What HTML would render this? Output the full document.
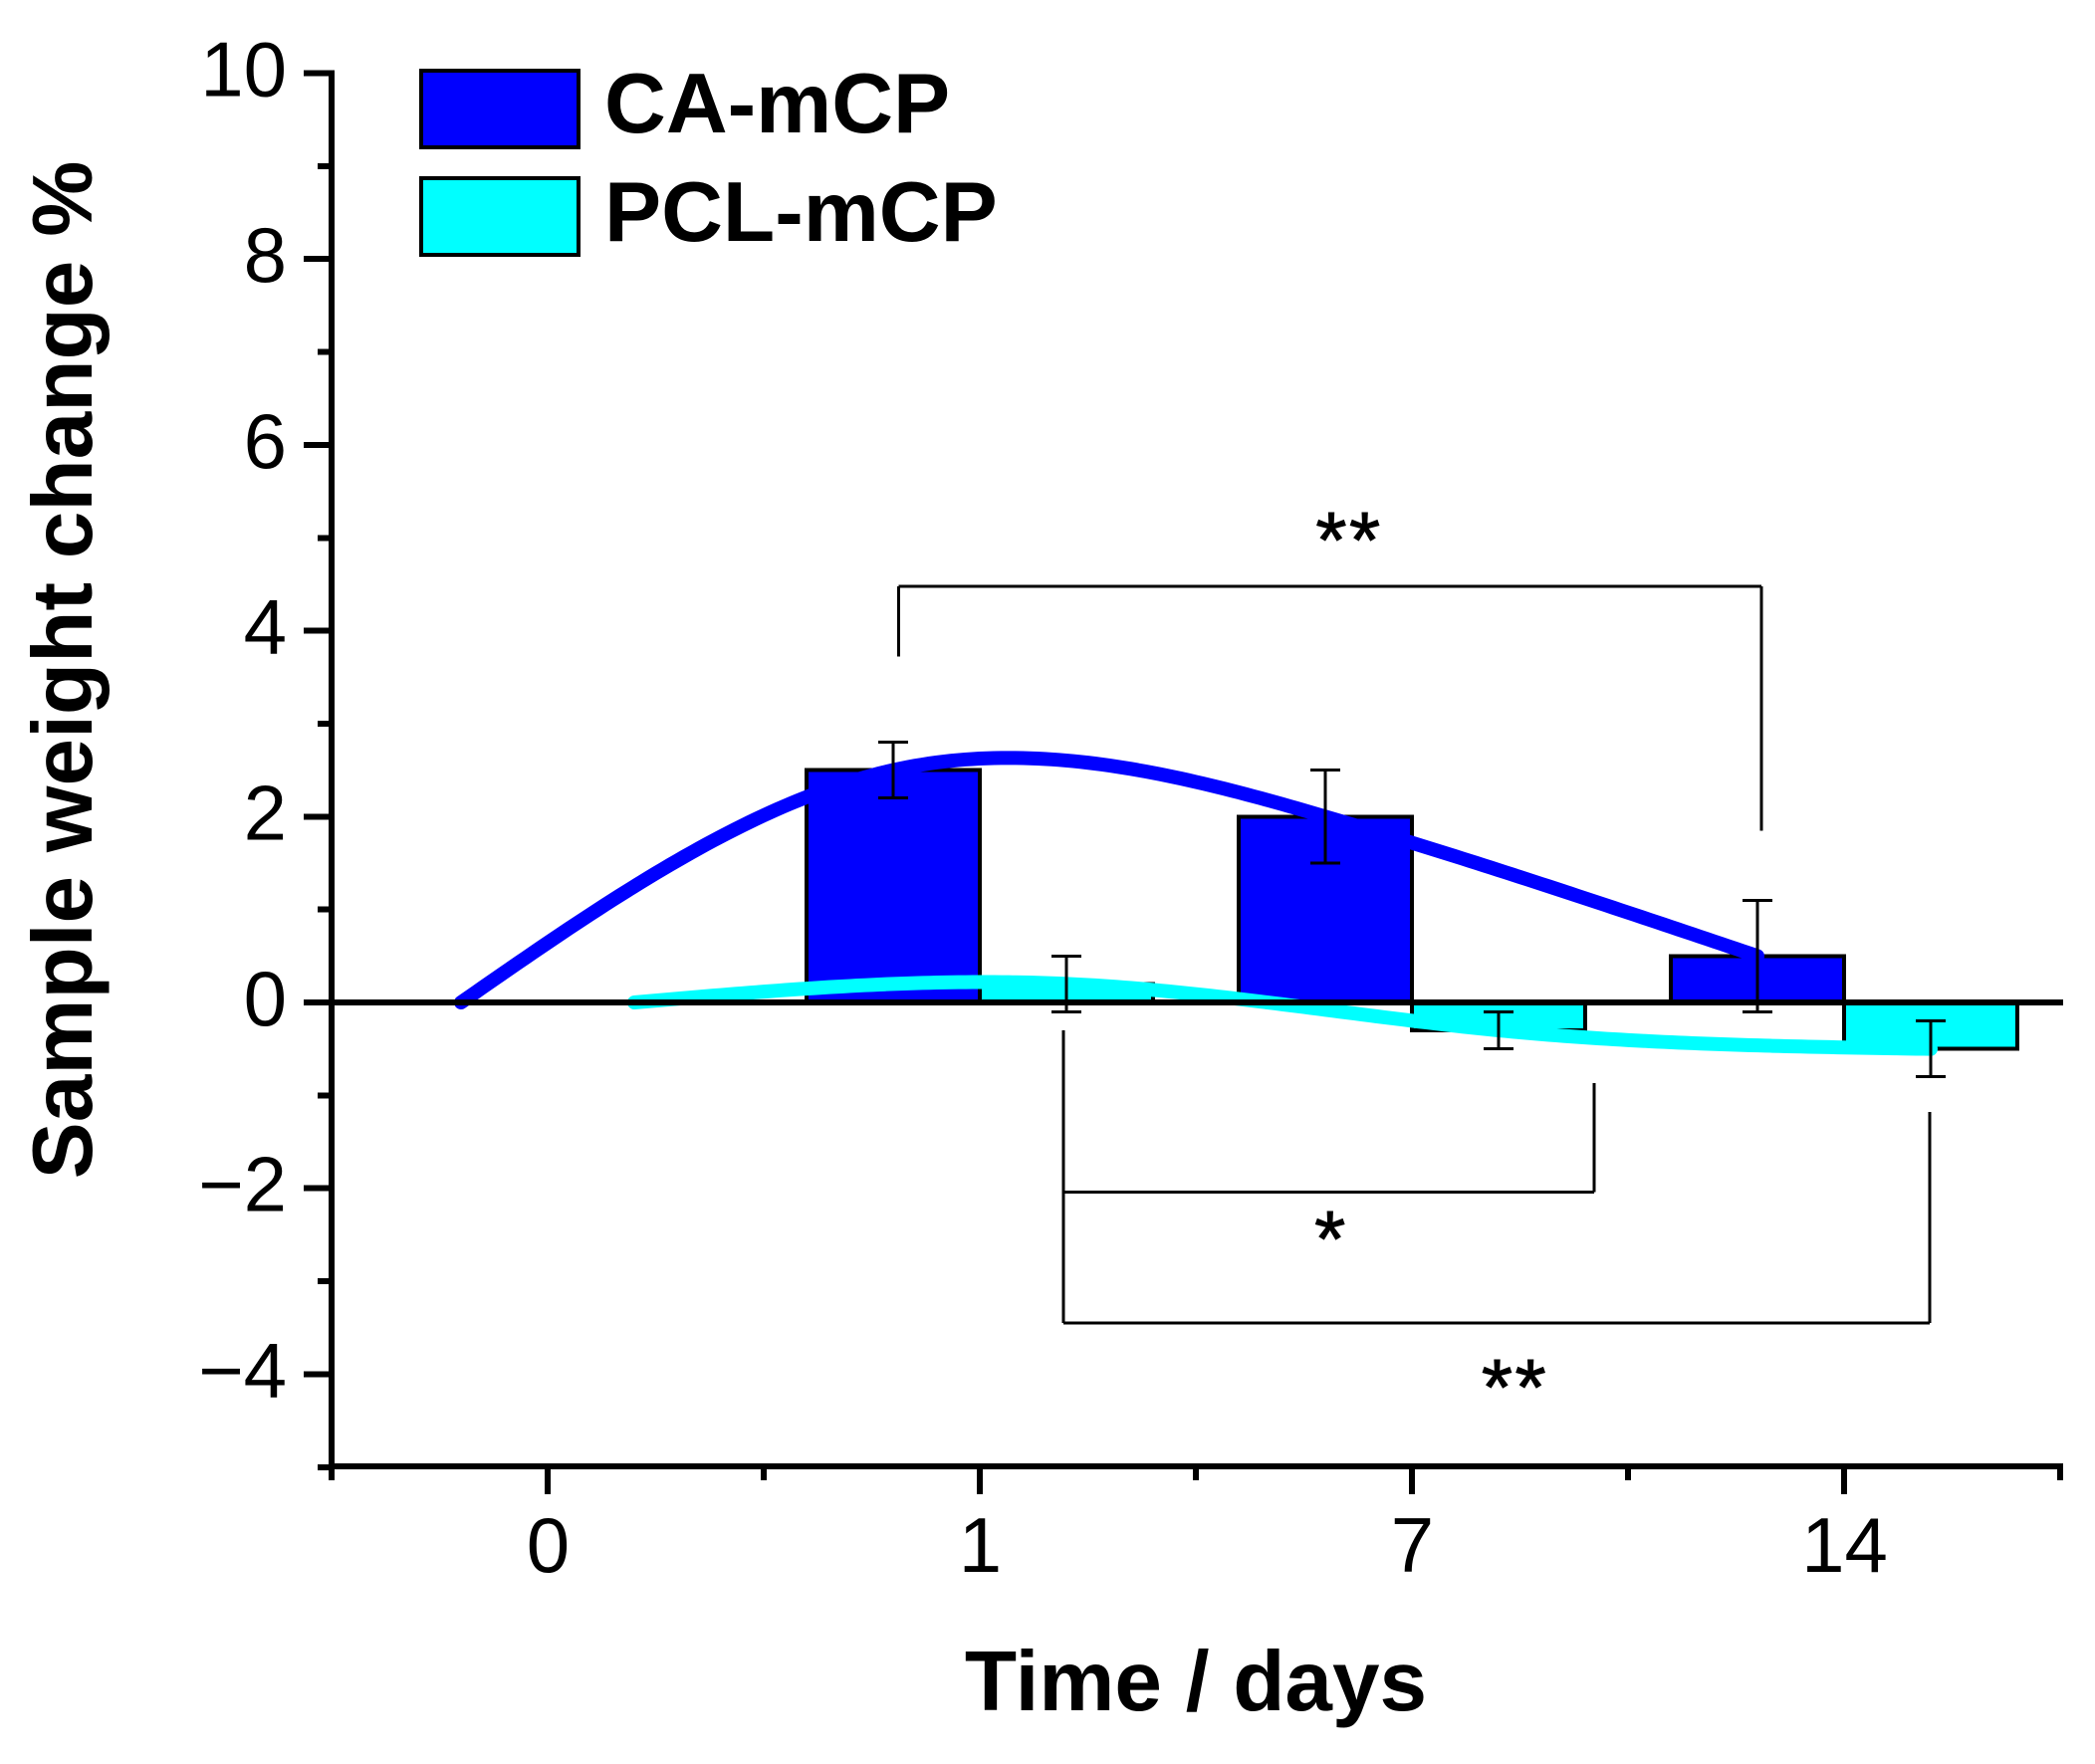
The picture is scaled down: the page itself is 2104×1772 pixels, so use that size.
<!DOCTYPE html>
<html lang="en">
<head>
<meta charset="utf-8">
<title>Sample weight change</title>
<style>
html,body{margin:0;padding:0;background:#fff;}
svg{display:block;}
text{font-family:"Liberation Sans",Arial,sans-serif;fill:#000;}
line,rect{shape-rendering:crispEdges;}
</style>
</head>
<body>
<svg id="chart" xmlns="http://www.w3.org/2000/svg" width="2104" height="1772" viewBox="0 0 2104 1772">
<rect x="0" y="0" width="2104" height="1772" fill="#fff"/>
</svg>
<script>
// ---- chart data ----
const categories = ['0', '1', '7', '14'];
const caMean = [0, 2.5, 2, 0.5];
const caError = [0, 0.3, 0.5, 0.6];
const pclMean = [0, 0.2, -0.3, -0.5];
const pclError = [0, 0.3, 0.2, 0.3];
const yMajorTicks = [10, 8, 6, 4, 2, 0, -2, -4];
const yMinorTicks = [9, 7, 5, 3, 1, -1, -3, -5];
const xMinorTicks = [-0.5, 0.5, 1.5, 2.5, 3.5];

// ---- axis functions ----
const NS = 'http://www.w3.org/2000/svg';
const svg = document.getElementById('chart');
const BAR_W = 174;
const AXIS_X = 333;
const AXIS_Y = 1473;
const RIGHT_X = 2072;
function xPos(i) { return 550 + 434 * i; }
function yPos(v) { return 1007 - 93.35 * v; }
function caCenter(i) { return xPos(i) - BAR_W / 2; }
function pclCenter(i) { return xPos(i) + BAR_W / 2; }

function make(tag, attrs, parent) {
  const el = document.createElementNS(NS, tag);
  for (const k in attrs) el.setAttribute(k, attrs[k]);
  (parent || svg).appendChild(el);
  return el;
}
function line(x1, y1, x2, y2, w, name) {
  const el = make('line', { x1: x1, y1: y1, x2: x2, y2: y2, stroke: '#000', 'stroke-width': w });
  
  
  return el;
}
function label(x, y, size, weight, anchor, str, name) {
  const el = make('text', { x: x, y: y, 'font-size': size, 'font-weight': weight, 'text-anchor': anchor });
  el.textContent = str;
  
  
  return el;
}
function star(x, y, str, name) {
  const el = label(x, y, 80, 'normal', 'middle', str, name);
  el.setAttribute('letter-spacing', '2.5');
  el.setAttribute('stroke', '#000');
  el.setAttribute('stroke-width', '1');
  return el;
}

// natural cubic spline through the data points
function splinePath(xs, ys) {
  const n = xs.length;
  const h = [], c = new Array(n).fill(0), z = new Array(n).fill(0), m = new Array(n).fill(0);
  for (let i = 0; i < n - 1; i++) h.push(xs[i + 1] - xs[i]);
  for (let i = 1; i < n - 1; i++) {
    const r = 6 * ((ys[i + 1] - ys[i]) / h[i] - (ys[i] - ys[i - 1]) / h[i - 1]);
    const b = 2 * (h[i - 1] + h[i]) - h[i - 1] * c[i - 1];
    c[i] = h[i] / b;
    z[i] = (r - h[i - 1] * z[i - 1]) / b;
  }
  for (let i = n - 2; i > 0; i--) m[i] = z[i] - c[i] * m[i + 1];
  let d = '';
  for (let i = 0; i < n - 1; i++) {
    for (let s = 0; s <= 60; s++) {
      if (i > 0 && s === 0) continue;
      const t = s / 60;
      const A = 1 - t;
      const hh = h[i];
      const y = A * ys[i] + t * ys[i + 1] + ((A * A * A - A) * m[i] + (t * t * t - t) * m[i + 1]) * hh * hh / 6;
      d += (d ? 'L' : 'M') + (xs[i] + t * hh).toFixed(2) + ' ' + y.toFixed(2);
    }
  }
  return d;
}

// ---- bars ----
function drawBars(values, offset, fill, series) {
  values.forEach(function (v, i) {
    const x = xPos(i) + offset;
    const y0 = yPos(Math.max(v, 0));
    const y1 = yPos(Math.min(v, 0));
    const el = make('rect', { x: x, y: y0, width: BAR_W, height: y1 - y0, fill: fill, stroke: '#000', 'stroke-width': 4 });
    
    
  });
}
drawBars(caMean, -BAR_W, '#0000ff', 'ca-mcp');
drawBars(pclMean, 0, '#00ffff', 'pcl-mcp');

// ---- spline curves ----
const caCurve = make('path', {
  d: splinePath(caMean.map(function (_, i) { return caCenter(i); }), caMean.map(yPos)),
  fill: 'none', stroke: '#0000ff', 'stroke-width': 14, 'stroke-linecap': 'round', 'stroke-linejoin': 'round'
});


const pclCurve = make('path', {
  d: splinePath(pclMean.map(function (_, i) { return pclCenter(i); }), pclMean.map(yPos)),
  fill: 'none', stroke: '#00ffff', 'stroke-width': 14, 'stroke-linecap': 'round', 'stroke-linejoin': 'round'
});



// ---- zero line ----
line(AXIS_X, yPos(0), RIGHT_X, yPos(0), 6, 'zero-line');

// ---- error bars ----
function drawErrors(means, errs, centerFn, series) {
  means.forEach(function (m, i) {
    if (errs[i] === 0) return;
    const cx = centerFn(i);
    const top = yPos(m + errs[i]);
    const bot = yPos(m - errs[i]);
    line(cx, top, cx, bot, 3, 'error-bar-' + series + '-day-' + categories[i]);
    line(cx - 15, top, cx + 15, top, 3, 'error-cap-top-' + series + '-day-' + categories[i]);
    line(cx - 15, bot, cx + 15, bot, 3, 'error-cap-bottom-' + series + '-day-' + categories[i]);
  });
}
drawErrors(caMean, caError, caCenter, 'ca-mcp');
drawErrors(pclMean, pclError, pclCenter, 'pcl-mcp');

// ---- axes ----
line(AXIS_X, yPos(10) - 3, AXIS_X, AXIS_Y + 3, 6, 'y-axis-line');
line(AXIS_X - 3, AXIS_Y, RIGHT_X, AXIS_Y, 6, 'x-axis-line');
yMajorTicks.forEach(function (v) {
  const y = yPos(v);
  line(AXIS_X - 28, y, AXIS_X, y, 6, 'y-major-tick');
  label(288, y + 23, 78, 'normal', 'end', v < 0 ? '\u2212' + Math.abs(v) : String(v), 'y-tick-label');
});
yMinorTicks.forEach(function (v) {
  const y = yPos(v);
  line(AXIS_X - 14, y, AXIS_X, y, 6, 'y-minor-tick');
});
categories.forEach(function (c, i) {
  const x = xPos(i);
  line(x, AXIS_Y, x, AXIS_Y + 28, 6, 'x-major-tick');
  label(x + 0.5, 1579, 78, 'normal', 'middle', c, 'x-tick-label');
});
xMinorTicks.forEach(function (t) {
  const x = xPos(t);
  line(x, AXIS_Y, x, AXIS_Y + 14, 6, 'x-minor-tick');
});

// ---- significance brackets ----
line(902.5, yPos(3.72), 902.5, yPos(4.48), 3, 'bracket-top-left-leg');
line(902.5, yPos(4.48), 1769, yPos(4.48), 3, 'bracket-top-span');
line(1769, yPos(4.48), 1769, yPos(1.85), 3, 'bracket-top-right-leg');
line(1068, yPos(-0.3), 1068, yPos(-3.45), 3, 'bracket-lower-left-leg');
line(1068, yPos(-2.04), 1601, yPos(-2.04), 3, 'bracket-single-star-span');
line(1601, yPos(-2.04), 1601, yPos(-0.87), 3, 'bracket-single-star-right-leg');
line(1068, yPos(-3.45), 1938, yPos(-3.45), 3, 'bracket-double-star-span');
line(1938, yPos(-3.45), 1938, yPos(-1.18), 3, 'bracket-double-star-right-leg');
star(1355, 570, '**', 'significance-top');
star(1337, 1272, '*', 'significance-single-star');
star(1521.5, 1421, '**', 'significance-double-star');

// ---- titles ----
const yTitle = label(0, 0, 85.6, 'bold', 'middle', 'Sample weight change %', 'y-axis-title');
yTitle.setAttribute('transform', 'translate(92 673) rotate(-90)');
label(1201, 1718, 85.5, 'bold', 'middle', 'Time / days', 'x-axis-title');

// ---- legend ----
const legendCa = make('rect', { x: 423, y: 71, width: 158, height: 77, fill: '#0000ff', stroke: '#000', 'stroke-width': 4 });


const legendPcl = make('rect', { x: 423, y: 179, width: 158, height: 77, fill: '#00ffff', stroke: '#000', 'stroke-width': 4 });


label(607, 133, 85.6, 'bold', 'start', 'CA-mCP', 'legend-label-ca-mcp');
label(607, 242, 85.6, 'bold', 'start', 'PCL-mCP', 'legend-label-pcl-mcp');
</script>
</body>
</html>
